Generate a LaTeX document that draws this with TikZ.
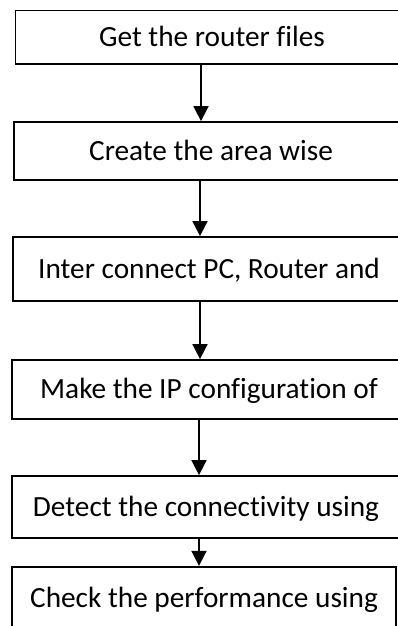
\documentclass[tikz,border=0pt]{standalone}
\usepackage{fontspec}
\setmainfont{Carlito}[Ligatures=CommonOff]
\usetikzlibrary{arrows.meta}
\begin{document}
\begin{tikzpicture}[x=1pt,y=-1pt,
  stepbox/.style={draw=black, line width=1.8pt, rectangle, inner sep=0pt,
    text height=18.6pt, text depth=0pt,
    font=\fontsize{29.3}{34}\selectfont},
  arr/.style={line width=1.8pt, -{Triangle[width=15pt,length=15pt]}}]
\useasboundingbox (0,0) rectangle (398,626);
\clip (0,0) rectangle (398,626);
\node[stepbox, minimum width=393pt, minimum height=53.5pt] (b1) at (212,37.25) {Get the router files};
\node[stepbox, minimum width=394pt, minimum height=58pt] (b2) at (211,151) {Create the area wise};
\node[stepbox, minimum width=392pt, minimum height=64pt] (b3) at (209,269) {Inter connect PC, Router and};
\node[stepbox, minimum width=394pt, minimum height=59pt] (b4) at (209,389.5) {Make the IP configuration of};
\node[stepbox, minimum width=388pt, minimum height=62pt] (b5) at (206,507) {Detect the connectivity using};
\node[stepbox, minimum width=384pt, minimum height=62.5pt] (b6) at (204,598) {Check the performance using};
\coordinate (c1) at (201,0);
\coordinate (c2) at (200,0);
\coordinate (c3) at (200,0);
\coordinate (c4) at (199,0);
\coordinate (c5) at (199,0);
\draw[arr] (b1.south -| c1) -- (b2.north -| c1);
\draw[arr] (b2.south -| c2) -- (b3.north -| c2);
\draw[arr] (b3.south -| c3) -- (b4.north -| c3);
\draw[arr] (b4.south -| c4) -- (b5.north -| c4);
\draw[arr] (b5.south -| c5) -- (b6.north -| c5);
\end{tikzpicture}
\end{document}
